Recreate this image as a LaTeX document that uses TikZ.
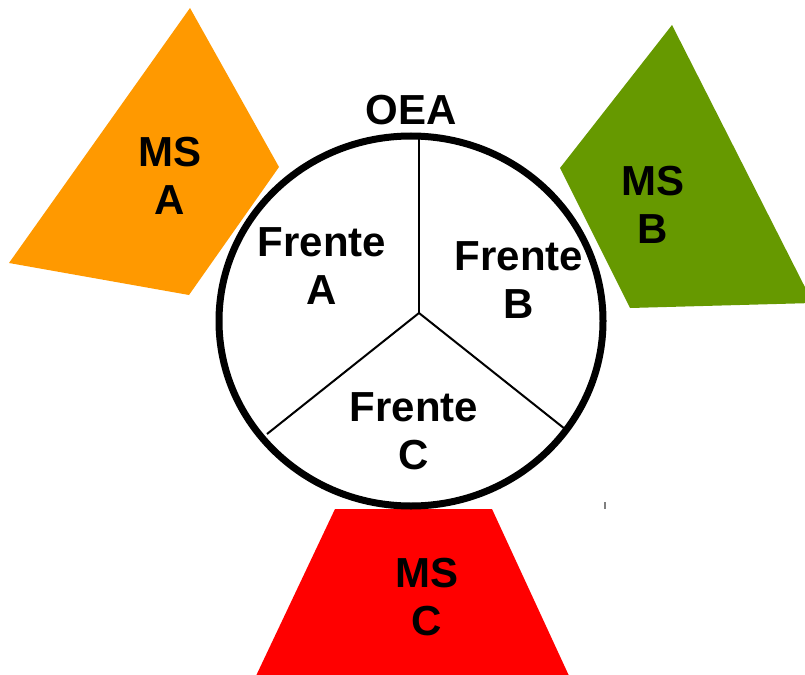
\documentclass[tikz,border=0pt]{standalone}
\usepackage{fontspec}
\setmainfont{Liberation Sans}
\usepackage{tikz}
\usetikzlibrary{positioning}

\definecolor{msorange}{RGB}{255,153,0}
\definecolor{msgreen}{RGB}{102,153,0}
\definecolor{msred}{RGB}{255,0,0}

\begin{document}
\begin{tikzpicture}
		[x=1pt,y=-1pt,
		 lbl/.style= {align=center,inner sep=0pt,font=\fontsize{42}{48}\selectfont\bfseries},
		 spoke/.style= {line width=2pt,draw=black}]

		\useasboundingbox (0,0) rectangle (805,674);

		% the three MS shapes
		\fill[msorange] (190,8) -- (279,167) -- (189,295) -- (9,263) -- cycle;
		\fill[msgreen] (672,25) -- (813,303) -- (630,308) -- (560,168) -- cycle;
		\fill[msred] (335,509) -- (492,509) -- (570,678) -- (255,678) -- cycle;

		% OEA circle
		\draw[line width=7pt,fill=white] (411,321) ellipse [x radius=192,y radius=185];

		\coordinate (ctr) at (419,313);

		\node[coordinate] (rimA) at (419,136) {}
			edge [spoke]	(ctr)
		;
		\node[coordinate] (rimC) at (267,434) {}
			edge [spoke]	(ctr)
		;
		\node[coordinate] (rimB) at (565,429) {}
			edge [spoke]	(ctr)
		;

		\node[lbl] (oea) at (411,110) {OEA};

		\node[lbl] (fa) at (322,266.5) {Frente\\A};
		\node[lbl] (fb) at (519,280.5) {Frente\\B};
		\node[lbl] (fc) at (414,431.5) {Frente\\C};

		\node[lbl] (msa) at (170,175.5) {MS\\A};
		\node[lbl] (msb) at (653,204.5) {MS\\B};
		\node[lbl] (msc) at (427,597.5) {MS\\C};

		\draw[gray,line width=1.5pt] (605,502) -- (605,509);

	\end{tikzpicture}
\end{document}
